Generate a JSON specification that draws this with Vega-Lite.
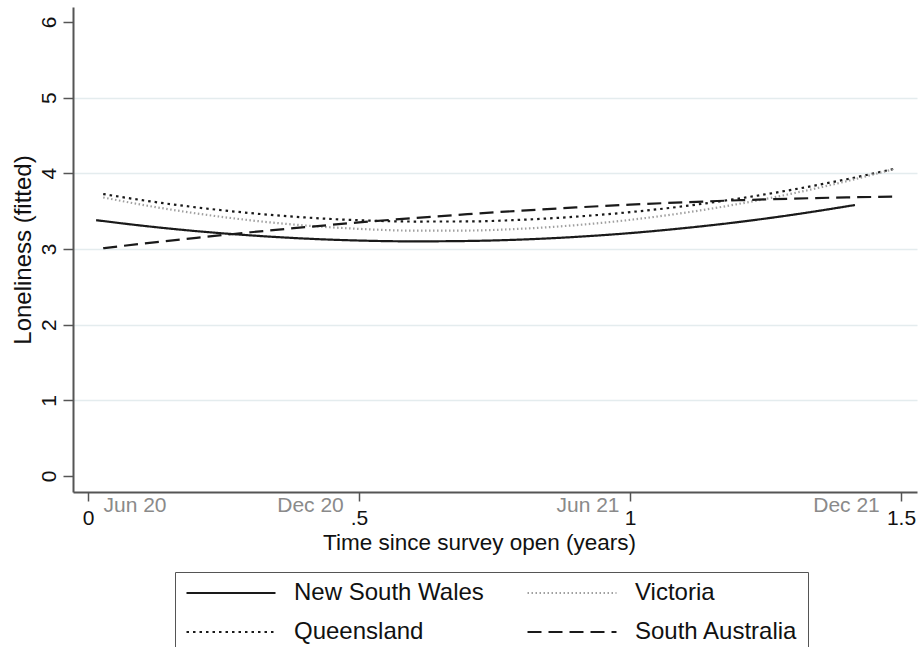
{
  "$schema": "https://vega.github.io/schema/vega-lite/v6.json",
  "width": 844,
  "height": 485,
  "autosize": {"type": "none"},
  "padding": {"left": 73, "top": 7, "right": 3, "bottom": 155},
  "background": "white",
  "config": {"view": {"stroke": null}, "font": "Liberation Sans"},
  "data": {
    "values": [
      {"state": "New South Wales", "t": 0.015, "v": 3.380},
      {"state": "New South Wales", "t": 0.1, "v": 3.307},
      {"state": "New South Wales", "t": 0.2, "v": 3.235},
      {"state": "New South Wales", "t": 0.3, "v": 3.179},
      {"state": "New South Wales", "t": 0.4, "v": 3.137},
      {"state": "New South Wales", "t": 0.5, "v": 3.111},
      {"state": "New South Wales", "t": 0.6, "v": 3.100},
      {"state": "New South Wales", "t": 0.7, "v": 3.105},
      {"state": "New South Wales", "t": 0.8, "v": 3.124},
      {"state": "New South Wales", "t": 0.9, "v": 3.159},
      {"state": "New South Wales", "t": 1.0, "v": 3.209},
      {"state": "New South Wales", "t": 1.1, "v": 3.275},
      {"state": "New South Wales", "t": 1.2, "v": 3.355},
      {"state": "New South Wales", "t": 1.3, "v": 3.451},
      {"state": "New South Wales", "t": 1.415, "v": 3.580},
      {"state": "Queensland", "t": 0.028, "v": 3.725},
      {"state": "Queensland", "t": 0.1, "v": 3.644},
      {"state": "Queensland", "t": 0.2, "v": 3.549},
      {"state": "Queensland", "t": 0.3, "v": 3.473},
      {"state": "Queensland", "t": 0.4, "v": 3.416},
      {"state": "Queensland", "t": 0.5, "v": 3.379},
      {"state": "Queensland", "t": 0.6, "v": 3.362},
      {"state": "Queensland", "t": 0.7, "v": 3.363},
      {"state": "Queensland", "t": 0.8, "v": 3.385},
      {"state": "Queensland", "t": 0.9, "v": 3.426},
      {"state": "Queensland", "t": 1.0, "v": 3.486},
      {"state": "Queensland", "t": 1.1, "v": 3.565},
      {"state": "Queensland", "t": 1.2, "v": 3.665},
      {"state": "Queensland", "t": 1.3, "v": 3.783},
      {"state": "Queensland", "t": 1.4, "v": 3.921},
      {"state": "Queensland", "t": 1.489, "v": 4.061},
      {"state": "Victoria", "t": 0.028, "v": 3.680},
      {"state": "Victoria", "t": 0.1, "v": 3.583},
      {"state": "Victoria", "t": 0.2, "v": 3.469},
      {"state": "Victoria", "t": 0.3, "v": 3.378},
      {"state": "Victoria", "t": 0.4, "v": 3.310},
      {"state": "Victoria", "t": 0.5, "v": 3.265},
      {"state": "Victoria", "t": 0.6, "v": 3.242},
      {"state": "Victoria", "t": 0.7, "v": 3.243},
      {"state": "Victoria", "t": 0.8, "v": 3.267},
      {"state": "Victoria", "t": 0.9, "v": 3.314},
      {"state": "Victoria", "t": 1.0, "v": 3.384},
      {"state": "Victoria", "t": 1.1, "v": 3.477},
      {"state": "Victoria", "t": 1.2, "v": 3.594},
      {"state": "Victoria", "t": 1.3, "v": 3.733},
      {"state": "Victoria", "t": 1.4, "v": 3.895},
      {"state": "Victoria", "t": 1.485, "v": 4.051},
      {"state": "South Australia", "t": 0.028, "v": 3.010},
      {"state": "South Australia", "t": 0.1, "v": 3.069},
      {"state": "South Australia", "t": 0.2, "v": 3.147},
      {"state": "South Australia", "t": 0.3, "v": 3.220},
      {"state": "South Australia", "t": 0.4, "v": 3.287},
      {"state": "South Australia", "t": 0.5, "v": 3.350},
      {"state": "South Australia", "t": 0.6, "v": 3.407},
      {"state": "South Australia", "t": 0.7, "v": 3.459},
      {"state": "South Australia", "t": 0.8, "v": 3.506},
      {"state": "South Australia", "t": 0.9, "v": 3.548},
      {"state": "South Australia", "t": 1.0, "v": 3.585},
      {"state": "South Australia", "t": 1.1, "v": 3.616},
      {"state": "South Australia", "t": 1.2, "v": 3.643},
      {"state": "South Australia", "t": 1.3, "v": 3.664},
      {"state": "South Australia", "t": 1.4, "v": 3.681},
      {"state": "South Australia", "t": 1.485, "v": 3.690}
    ]
  },
  "mark": {"type": "line", "strokeWidth": 2.2, "interpolate": "monotone", "clip": false},
  "encoding": {
    "x": {
      "field": "t",
      "type": "quantitative",
      "scale": {"domain": [-0.0277, 1.5295], "nice": false, "zero": false},
      "axis": {
        "values": [0, 0.0858, 0.4096, 0.5, 0.9216, 1, 1.3985, 1.5],
        "labelExpr": "datum.value == 0 ? '0' : datum.value == 0.5 ? '.5' : datum.value == 1 ? '1' : datum.value == 1.5 ? '1.5' : datum.value < 0.2 ? 'Jun 20' : datum.value < 0.6 ? 'Dec 20' : datum.value < 1.2 ? 'Jun 21' : 'Dec 21'",
        "labelOverlap": false,
        "labelFlush": false,
        "labelBound": false,
        "labelFontSize": 21,
        "labelBaseline": "middle",
        "labelColor": {"condition": {"test": "datum.value * 2 == round(datum.value * 2)", "value": "#111111"}, "value": "#8a8a8a"},
        "labelPadding": {"condition": {"test": "datum.value * 2 == round(datum.value * 2)", "value": 17}, "value": 4},
        "tickOpacity": {"condition": {"test": "datum.value * 2 == round(datum.value * 2)", "value": 1}, "value": 0},
        "tickSize": 9,
        "tickWidth": 1.5,
        "tickColor": "#555555",
        "domainColor": "#555555",
        "domainWidth": 2,
        "grid": false,
        "title": "Time since survey open (years)",
        "titleFontSize": 22.5,
        "titleFontWeight": "normal",
        "titleColor": "#111111",
        "titleX": 406,
        "titleY": 50,
        "titleBaseline": "middle",
        "titleAnchor": "middle"
      }
    },
    "y": {
      "field": "v",
      "type": "quantitative",
      "scale": {"domain": [-0.211, 6.196], "nice": false, "zero": false},
      "axis": {
        "values": [0, 1, 2, 3, 4, 5, 6],
        "labelAngle": -90,
        "labelAlign": "center",
        "labelBaseline": "alphabetic",
        "labelPadding": 8,
        "labelFontSize": 21,
        "labelColor": "#111111",
        "tickSize": 10,
        "tickWidth": 1.5,
        "tickColor": "#555555",
        "domainColor": "#555555",
        "domainWidth": 2,
        "grid": true,
        "gridColor": "#e4ecee",
        "gridWidth": 1.5,
        "gridOpacity": {"condition": {"test": "datum.value == 0 || datum.value == 6", "value": 0}, "value": 1},
        "title": "Loneliness (fitted)",
        "titleFontSize": 24,
        "titleFontWeight": "normal",
        "titleColor": "#111111",
        "titleAngle": -90,
        "titleX": -50,
        "titleY": 242.5,
        "titleBaseline": "middle",
        "titleAlign": "center"
      }
    },
    "color": {
      "field": "state",
      "type": "nominal",
      "scale": {
        "domain": ["New South Wales", "Queensland", "Victoria", "South Australia"],
        "range": ["#1a1a1a", "#1a1a1a", "#a0a0a0", "#1a1a1a"]
      },
      "legend": {
        "orient": "none",
        "legendX": 102,
        "legendY": 565,
        "columns": 2,
        "title": null,
        "symbolType": "stroke",
        "symbolSize": 7921,
        "symbolStrokeWidth": 2.2,
        "labelFontSize": 24,
        "labelColor": "#111111",
        "labelOffset": 17,
        "columnPadding": 42,
        "rowPadding": 15,
        "clipHeight": 22,
        "padding": 10,
        "strokeColor": "#555555",
        "labelLimit": 400
      }
    },
    "strokeDash": {
      "field": "state",
      "type": "nominal",
      "scale": {
        "domain": ["New South Wales", "Queensland", "Victoria", "South Australia"],
        "range": [[1, 0], [2.5, 4], [1.5, 2.5], [14, 7]]
      }
    }
  }
}
